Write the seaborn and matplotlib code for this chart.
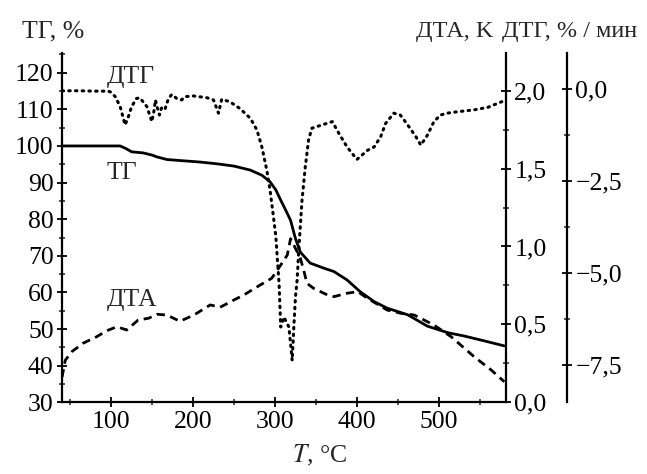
import matplotlib
matplotlib.use("Agg")
import matplotlib.pyplot as plt
from matplotlib.ticker import MultipleLocator, FuncFormatter
import seaborn as sns

# TG curve (left axis, %)
tg_t = [40, 80, 111, 118, 125, 139, 150, 156, 168, 185, 209, 230, 250, 270, 284, 294,
        301, 307, 313, 319, 325, 331, 343, 360, 372, 388, 404, 421, 437, 462, 486, 511,
        531, 555, 580]
tg_v = [100, 100, 100, 99.3, 98.4, 98.1, 97.5, 97, 96.3, 96, 95.6, 95.1, 94.5, 93.4, 92, 90.2,
        88, 85.2, 82.5, 79.7, 74.7, 71, 68, 66.6, 65.7, 63.4, 60.2, 57.5, 55.7, 53.9, 50.8, 49.0,
        48.1, 46.8, 45.4]

# DTA curve (K)
dta_t = [40, 44, 52, 66, 82, 95, 107, 119, 133, 146, 156, 168, 184, 201, 221, 233, 250, 262,
         282, 296, 307, 315, 319, 325, 331, 335, 339, 347, 364, 372, 388, 401, 413, 437, 454,
         470, 494, 515, 543, 564, 580]
dta_v = [0.16, 0.27, 0.325, 0.38, 0.42, 0.46, 0.485, 0.464, 0.528, 0.54, 0.565, 0.56, 0.52,
         0.56, 0.625, 0.61, 0.657, 0.689, 0.753, 0.796, 0.881, 0.945, 1.05, 0.988, 0.924,
         0.849, 0.764, 0.732, 0.689, 0.678, 0.70, 0.71, 0.667, 0.592, 0.571, 0.56, 0.496,
         0.421, 0.293, 0.207, 0.132]

# DTG curve (%/min)
dtg_t = [40, 60, 80, 96, 99, 105, 111, 117, 121, 125, 131, 135, 143.6, 149.7, 152.5, 154,
         156.6, 159, 162, 166, 170, 174, 180, 186, 190, 200, 217, 225, 231, 235, 245, 257,
         270, 278, 284, 290, 294, 298, 301, 305, 307, 311, 314, 317, 321, 323, 325, 327,
         329, 333, 337, 341, 345, 360, 370, 378, 388, 400, 413, 421, 429, 435, 445, 453,
         462, 472, 478, 486, 494, 502, 510, 523, 543, 560, 572, 580]
dtg_v = [-0.04, -0.04, -0.05, -0.05, -0.07, -0.2, -0.47, -0.97, -0.75, -0.47, -0.25, -0.23,
         -0.47, -0.88, -0.56, -0.29, -0.52, -0.70, -0.47, -0.52, -0.25, -0.14, -0.25, -0.29,
         -0.20, -0.18, -0.23, -0.29, -0.65, -0.27, -0.34, -0.52, -0.79, -1.11, -1.57, -2.2,
         -2.75, -3.45, -4.0, -5.3, -6.47, -6.2, -6.34, -6.47, -7.38, -6.47, -5.65, -5.2,
         -4.38, -3.02, -2.11, -1.38, -1.06, -0.95, -0.88, -1.2, -1.57, -1.91, -1.66, -1.57,
         -1.29, -0.93, -0.65, -0.70, -0.97, -1.29, -1.52, -1.25, -0.88, -0.70, -0.65, -0.61,
         -0.56, -0.49, -0.38, -0.31]

sns.set_style("ticks")
plt.rcParams["font.family"] = ["Liberation Serif", "DejaVu Serif"]
plt.rcParams["mathtext.fontset"] = "stix"
FS = 18.5

def comma(x, pos):
    return f"{x:.1f}".replace(".", ",").replace("-", "\u2212")

fig = plt.figure(figsize=(6.47, 4.74), dpi=100)
ax = fig.add_axes([62 / 647, 1 - 402.3 / 474, 444 / 647, 349 / 474])
ax2 = ax.twinx()
ax3 = ax.twinx()

sns.lineplot(x=tg_t, y=tg_v, ax=ax, color="black", lw=2.0, estimator=None)
sns.lineplot(x=dta_t, y=dta_v, ax=ax2, color="black", lw=2.0, estimator=None,
             linestyle=(0, (3, 2)))
sns.lineplot(x=dtg_t, y=dtg_v, ax=ax3, color="black", lw=2.2, estimator=None,
             linestyle=(0, (0.5, 1.7)), dash_capstyle="round")

ax.set_xlim(40, 582)
ax.set_ylim(30, 125.3)
ax2.set_ylim(0, 2.24)
ax3.set_ylim(-8.52, 0.98)

ax.xaxis.set_major_locator(MultipleLocator(100))
ax.xaxis.set_minor_locator(MultipleLocator(50))
ax.yaxis.set_major_locator(MultipleLocator(10))
ax.yaxis.set_minor_locator(MultipleLocator(5))
ax2.yaxis.set_major_locator(MultipleLocator(0.5))
ax2.yaxis.set_minor_locator(MultipleLocator(0.25))
ax2.yaxis.set_major_formatter(FuncFormatter(comma))
ax3.yaxis.set_major_locator(MultipleLocator(2.5))
ax3.yaxis.set_minor_locator(MultipleLocator(1.25))
ax3.yaxis.set_major_formatter(FuncFormatter(comma))

for a in (ax, ax2, ax3):
    a.tick_params(which="major", direction="inout", length=7, width=1.3,
                  labelsize=FS, colors="black", pad=2.5)
    a.tick_params(which="minor", direction="inout", length=5, width=1.1)
    for s in a.spines.values():
        s.set_linewidth(1.6)
        s.set_color("black")
    a.set_xlabel("")
    a.set_ylabel("")

ax.spines["top"].set_visible(False)
ax.spines["right"].set_visible(False)
ax2.spines["top"].set_visible(False)
ax2.spines["left"].set_visible(False)
ax2.spines["bottom"].set_visible(False)
ax3.spines["top"].set_visible(False)
ax3.spines["left"].set_visible(False)
ax3.spines["bottom"].set_visible(False)
ax3.spines["right"].set_position(("axes", 505 / 444))

ax.set_xlabel("$T$, °C", fontsize=FS)
ax.xaxis.set_label_coords(258 / 444, -0.115)

ax.text(95, 118.8, "ДТГ", fontsize=FS, va="center", ha="left")
ax.text(95, 92.5, "ТГ", fontsize=FS, va="center", ha="left")
ax.text(95, 57.9, "ДТА", fontsize=FS, va="center", ha="left")

fig.text(22 / 647, 1 - 31 / 474, "ТГ, %", fontsize=FS, ha="left", va="center")
fig.text(493 / 647, 1 - 31 / 474, "ДТА, K", fontsize=17.5, ha="right", va="center")
fig.text(502 / 647, 1 - 31 / 474, "ДТГ, % / мин", fontsize=17.5, ha="left", va="center")

fig.savefig("out.png", dpi=100)
